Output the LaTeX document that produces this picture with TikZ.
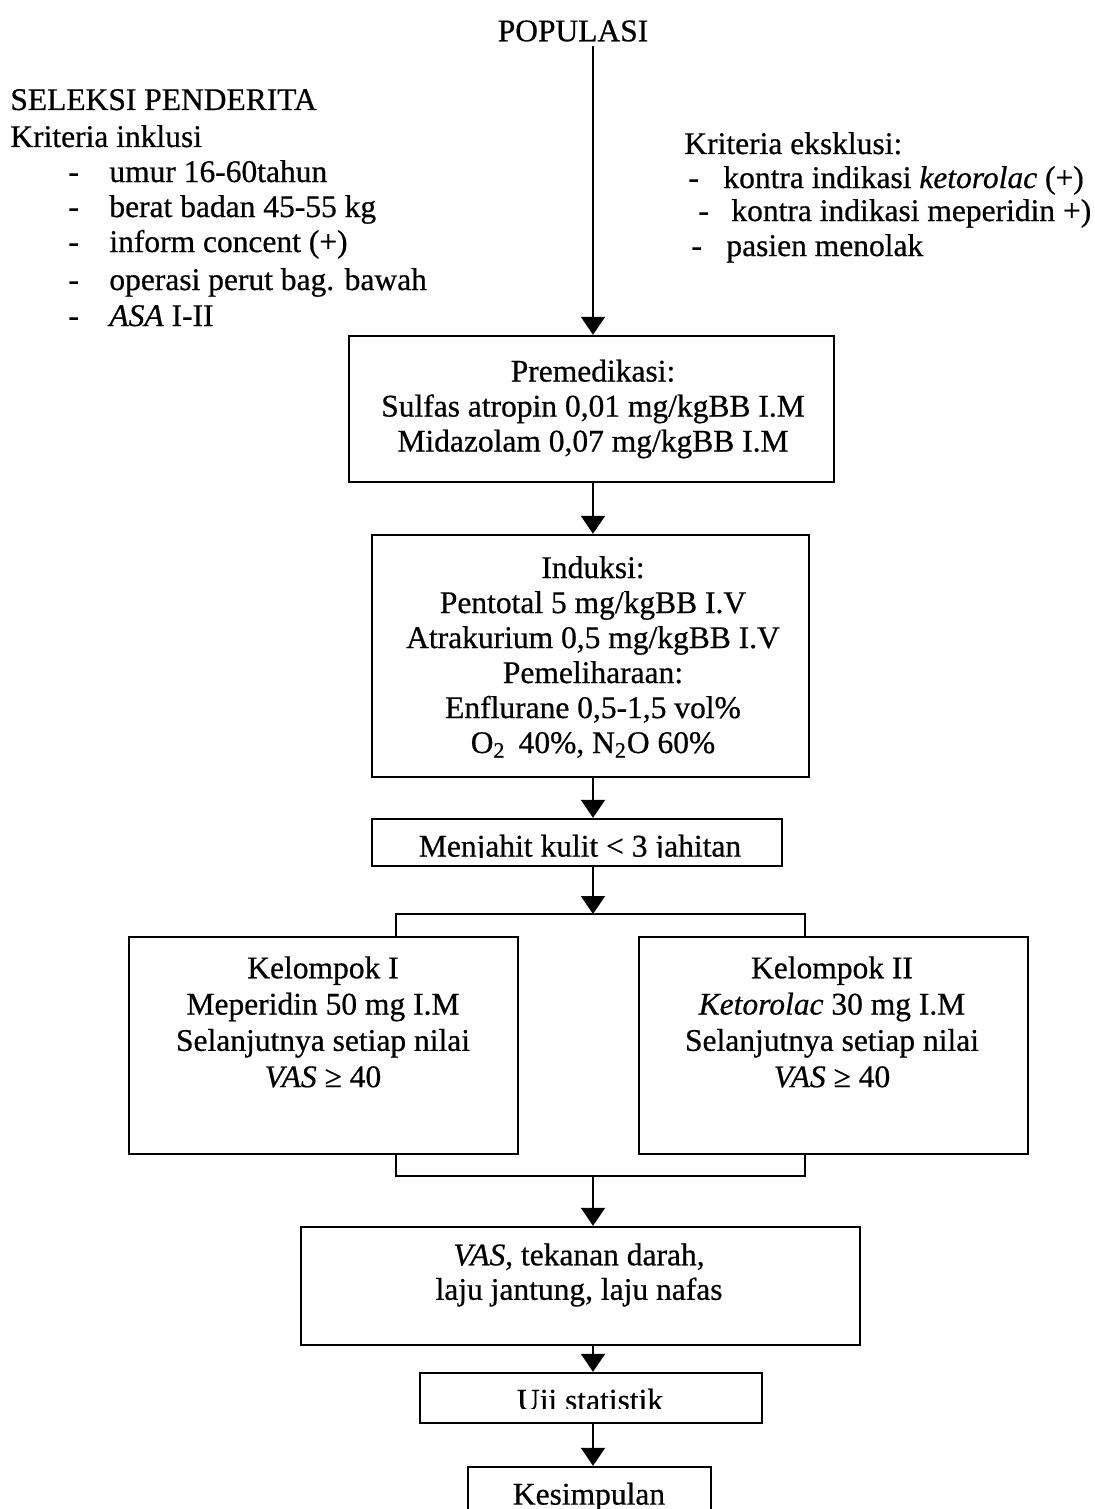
\documentclass[tikz,border=0pt]{standalone}
\usepackage{fontspec}
\setmainfont{Liberation Serif}[UprightFeatures={FakeBold=0.6},ItalicFeatures={FakeBold=0.6}]
\usetikzlibrary{arrows.meta}
\begin{document}
\begin{tikzpicture}[x=0.5pt,y=-0.5pt,
  every node/.style={font=\fontsize{15.75}{17.5}\selectfont, inner sep=0pt},
  box/.style={draw, line width=1.2pt, rectangle, inner sep=0pt},
  txt/.style={align=center},
  item/.style={anchor=base west},
  link/.style={line width=1pt},
  arr/.style={line width=1pt, -{Triangle[width=12pt,length=9pt]}}]
% page frame
\clip (0,0) rectangle (1095,1509);

% ---------- title ----------
\node (populasi) at (573,31) {POPULASI};

% ---------- inclusion criteria ----------
\node[item] (seleksi) at (10,110) {SELEKSI PENDERITA};
\node[item] (inkl)    at (10,147) {Kriteria inklusi};
\node[item] (inkla) at (68,182) {\makebox[20.5pt][l]{-}umur 16-60tahun};
\node[item] (inklb) at (68,217) {\makebox[20.5pt][l]{-}berat badan 45-55 kg};
\node[item] (inklc) at (68,252) {\makebox[20.5pt][l]{-}inform concent (+)};
\node[item] (inkld) at (68,290) {\makebox[20.5pt][l]{-}operasi perut bag. bawah};
\node[item] (inkle) at (68,326) {\makebox[20.5pt][l]{-}\textit{ASA} I-II};

% ---------- exclusion criteria ----------
\node[item] (eksl)  at (684,154) {Kriteria eksklusi:};
\node[item] (eksla) at (688,188) {\makebox[17.5pt][l]{-}kontra indikasi \textit{ketorolac} (+)};
\node[item] (ekslb) at (698,221) {\makebox[16.5pt][l]{-}kontra indikasi meperidin +)};
\node[item] (ekslc) at (691,256) {\makebox[17.5pt][l]{-}pasien menolak};

% ---------- boxes ----------
\node[box, minimum width=242.5pt, minimum height=73pt]   (premed)  at (591.5,409) {};
\node[box, minimum width=218.5pt, minimum height=121pt]  (induksi) at (590.5,656) {};
\node[box, minimum width=205pt,   minimum height=23.5pt] (menjahit) at (577,842.5) {};
\node[box, minimum width=194.5pt, minimum height=108.5pt] (kel1) at (323.5,1045.5) {};
\node[box, minimum width=194.5pt, minimum height=108.5pt] (kel2) at (833.5,1045.5) {};
\node[box, minimum width=279.5pt, minimum height=59pt]   (vas) at (580.5,1286) {};
\node[box, minimum width=171pt,   minimum height=25pt]   (uji) at (591,1398) {};
\node[box, minimum width=121.5pt, minimum height=36.5pt] (kesimpulan) at (589.5,1503.5) {};

% ---------- box texts ----------
\node[txt] (premedtxt) at (593,409) {Premedikasi:\\Sulfas atropin 0,01 mg/kgBB I.M\\Midazolam 0,07 mg/kgBB I.M};
\node[txt] (induksitxt) at (593,657) {Induksi:\\Pentotal 5 mg/kgBB I.V\\Atrakurium 0,5 mg/kgBB I.V\\Pemeliharaan:\\Enflurane 0,5-1,5 vol\%\\O\textsubscript{2}\, 40\%, N\textsubscript{2}O 60\%};
\begin{scope}
  \clip (372,819) rectangle (782,857);
  \node (menjahittxt) at (580,849) {Menjahit kulit < 3 jahitan};
\end{scope}
\node[txt, font=\fontsize{15.75}{18.15}\selectfont] (kel1txt) at (323,1022)
  {Kelompok I\\Meperidin 50 mg I.M\\Selanjutnya setiap nilai\\\textit{VAS} ≥ 40};
\node[txt, font=\fontsize{15.75}{18.15}\selectfont] (kel2txt) at (832,1022)
  {Kelompok II\\\textit{Ketorolac} 30 mg I.M\\Selanjutnya setiap nilai\\\textit{VAS} ≥ 40};
\node[txt, font=\fontsize{15.75}{17.25}\selectfont] (vastxt) at (579,1275)
  {\textit{VAS}, tekanan darah,\\laju jantung, laju nafas};
\begin{scope}
  \clip (420,1373) rectangle (762,1408);
  \node (ujitxt) at (590,1403) {Uji statistik};
\end{scope}
\node (kesimpulantxt) at (589,1497) {Kesimpulan};

% ---------- connectors ----------
\coordinate (ax) at (593,0);
\draw[arr] ([yshift=-2pt]populasi.south -| ax) -- (premed.north -| ax);
\draw[arr] (premed.south -| ax) -- (induksi.north -| ax);
\draw[arr] (induksi.south -| ax) -- (menjahit.north -| ax);
\coordinate (split) at (593,914);
\coordinate (legL) at (396,914);
\coordinate (legR) at (805,914);
\draw[arr] (menjahit.south -| ax) -- (split);
\draw[link] (kel1.north -| legL) -- (legL) -- (legR) -- (kel2.north -| legR);
\coordinate (joinL) at (396,1176);
\coordinate (joinR) at (805,1176);
\coordinate (join) at (593,1176);
\draw[link] (kel1.south -| joinL) -- (joinL) -- (joinR) -- (kel2.south -| joinR);
\draw[arr] (join) -- (vas.north -| ax);
\draw[arr] (vas.south -| ax) -- (uji.north -| ax);
\draw[arr] (uji.south -| ax) -- (kesimpulan.north -| ax);
\end{tikzpicture}
\end{document}
